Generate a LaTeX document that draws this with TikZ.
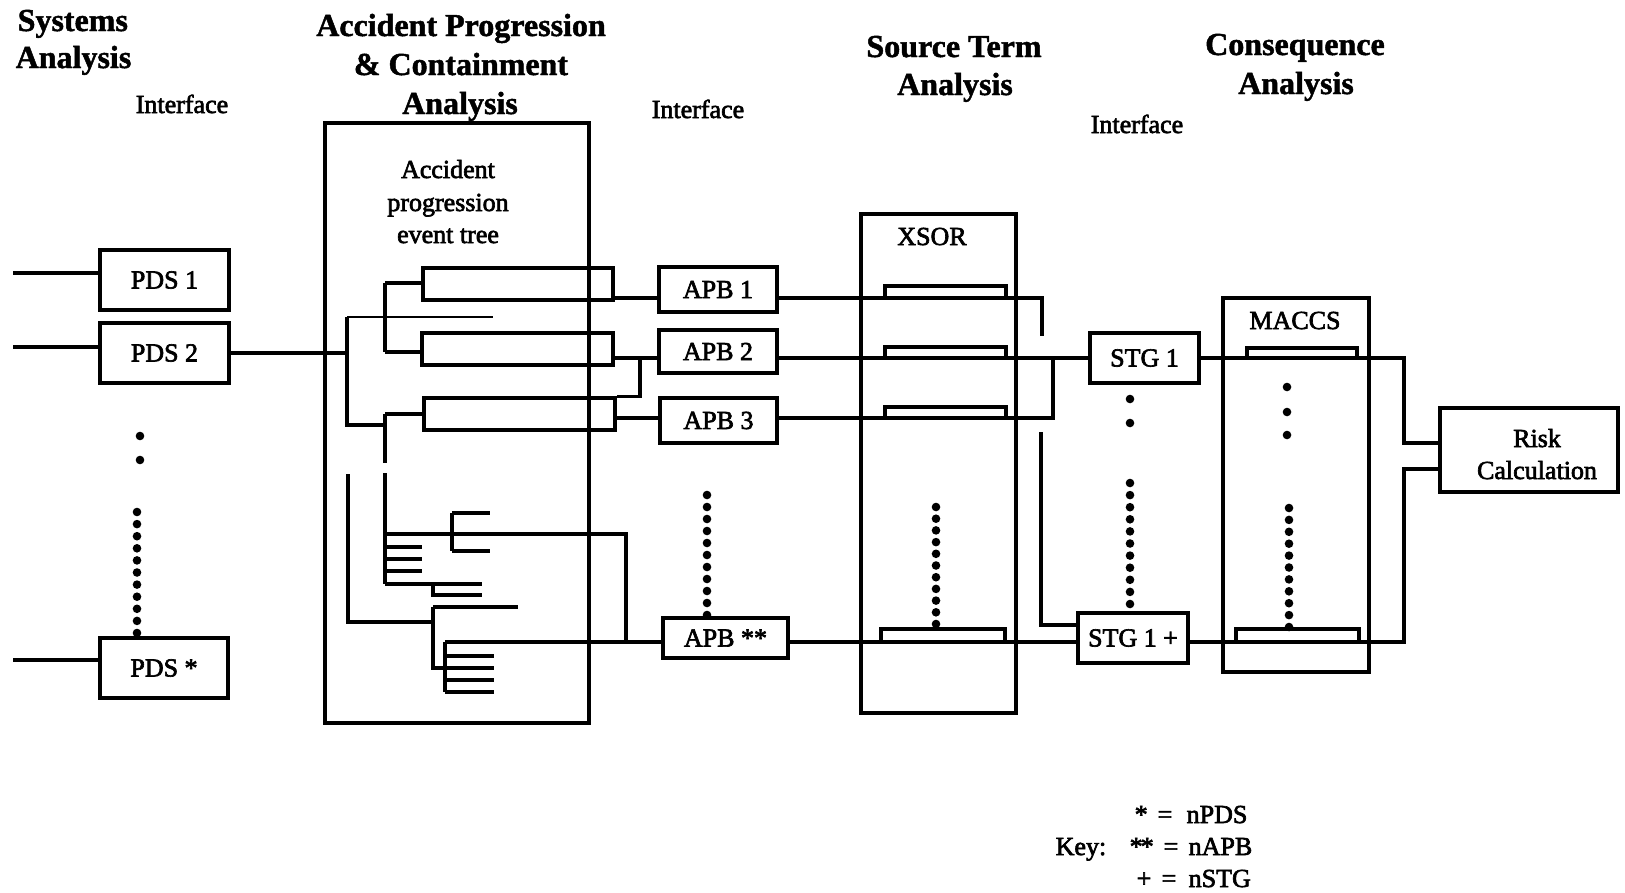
\documentclass[tikz,border=0pt]{standalone}
\usepackage{fontspec}
\setmainfont{Liberation Serif}
\newfontfamily\lblfam{Liberation Serif}[FakeBold=2.5]
\newfontfamily\hdfam{Liberation Serif Bold}[FakeBold=1.5]
\newcommand\lblfont{\lblfam\fontsize{26}{32}\selectfont}
\newcommand\hdfont{\hdfam\fontsize{32}{38}\selectfont}
\begin{document}
\begin{tikzpicture}[x=1pt,y=-1pt,line width=3.4pt,
  box/.style={draw,line width=3.4pt,inner sep=0pt,font=\lblfont},
  tbox/.style={draw,line width=3.4pt,inner sep=0pt},
  head/.style={font=\hdfont,anchor=base,inner sep=0pt},
  txt/.style={font=\lblfont,anchor=base,inner sep=0pt}]
\useasboundingbox (0,0) rectangle (1625,892);

% ---------- headings ----------
\node[head,anchor=base west] (sa1) at (16,31) {Systems};
\node[head,anchor=base west] (sa2) at (14,68) {Analysis};
\node[head] (ap1) at (461,36) {Accident Progression};
\node[head] (ap2) at (461,75) {\& Containment};
\node[head] (ap3) at (460,114) {Analysis};
\node[head] (st1) at (954,57) {Source Term};
\node[head] (st2) at (955,95) {Analysis};
\node[head] (ca1) at (1295,55) {Consequence};
\node[head] (ca2) at (1296,94) {Analysis};
\node[txt] (if1) at (182,113) {Interface};
\node[txt] (if2) at (698,118) {Interface};
\node[txt] (if3) at (1137,133) {Interface};

% ---------- PDS boxes ----------
\node[box,minimum width=129pt,minimum height=60pt] (pds1) at (164.5,280) {PDS 1};
\node[box,minimum width=129pt,minimum height=60pt] (pds2) at (164.5,353) {PDS 2};
\node[box,minimum width=128pt,minimum height=60pt] (pdsS) at (164,668) {PDS *};
\coordinate (in1) at (13,273);
\coordinate (in2) at (13,347);
\coordinate (in3) at (13,660);
\draw (in1) -- (in1 -| pds1.west);
\draw (in2) -- (in2 -| pds2.west);
\draw (in3) -- (in3 -| pdsS.west);
\fill (140,436) circle (4.3pt);
\fill (140,460) circle (4.3pt);
\foreach \i in {0,...,10} \fill (137,{512+12.1*\i}) circle (4.3pt);

% ---------- containment box and event tree ----------
\node[tbox,minimum width=264pt,minimum height=600pt] (cont) at (457,423) {};
\node[txt] (et1) at (448,178) {Accident};
\node[txt] (et2) at (448,211) {progression};
\node[txt] (et3) at (448,243) {event tree};
\node[tbox,minimum width=190pt,minimum height=32pt] (t1) at (518,284) {};
\node[tbox,minimum width=191pt,minimum height=32pt] (t2) at (517.5,349) {};
\node[tbox,minimum width=191pt,minimum height=32pt] (t3) at (519.5,414) {};
\coordinate (root) at (347,353);
\draw (pds2.east) -- (root);
\draw (347,317) -- (347,425) -- (385,425);
\draw[line width=2.4pt] (347,317) -- (493,317);
\draw (385,283) -- (385,352);
\draw (385,283) -- (t1.west |- 385,283);
\draw (385,352) -- (t2.west |- 385,352);
\draw (385,414) -- (t3.west);
\draw (385,414) -- (385,463);
\draw (385,473) -- (385,584);
\draw (385,534) -- (626,534) -- (626,642);
\draw (452,513) -- (452,551);
\draw (452,513) -- (490,513);
\draw (452,551) -- (490,551);
\draw (385,547) -- (422,547);
\draw (385,559) -- (422,559);
\draw (385,571) -- (422,571);
\draw (385,584) -- (482,584);
\draw (433,584) -- (433,595) -- (482,595);
\draw (348,474) -- (348,622) -- (433,622);
\draw (433,607) -- (433,668) -- (494,668);
\draw (433,607) -- (518,607);
\draw (445,642) -- (445,692);
\draw (445,656) -- (494,656);
\draw (445,680) -- (494,680);
\draw (445,692) -- (494,692);

% ---------- APB boxes ----------
\node[box,minimum width=118pt,minimum height=45pt] (apb1) at (718,289.5) {APB 1};
\node[box,minimum width=118pt,minimum height=43pt] (apb2) at (718,351.5) {APB 2};
\node[box,minimum width=117pt,minimum height=45pt] (apb3) at (718.5,420.5) {APB 3};
\node[box,minimum width=125pt,minimum height=40pt] (apbS) at (725.5,638) {APB **};
\foreach \i in {0,...,10} \fill (707,{495+12*\i}) circle (4.3pt);
\coordinate (y1) at (0,298);
\coordinate (y2) at (0,358);
\coordinate (y3) at (0,418);
\coordinate (y4) at (0,642);
\coordinate (y5) at (0,625);
\draw (t1.east |- y1) -- (apb1.west |- y1);
\draw (t2.east |- y2) -- (apb2.west |- y2);
\coordinate (k2) at (640,358);
\draw (k2) |- (t3.north east);
\draw (t3.east |- y3) -- (apb3.west |- y3);
\draw (445,642) -- (apbS.west |- y4);

% ---------- XSOR ----------
\node[tbox,minimum width=155pt,minimum height=499pt] (xsor) at (938.5,463.5) {};
\node[txt] (xsorl) at (932,245) {XSOR};
\draw (885,286) rectangle (1006,298);
\draw (885,347) rectangle (1006,358);
\draw (885,407) rectangle (1006,418);
\draw (881,629) rectangle (1005,642);
\foreach \i in {0,...,10} \fill (936,{507+11.7*\i}) circle (4.3pt);

% ---------- STG ----------
\node[box,minimum width=109pt,minimum height=50pt] (stg1) at (1144.5,358) {STG 1};
\node[box,minimum width=110pt,minimum height=50pt] (stg2) at (1133,638) {STG 1 +};
\fill (1130,399) circle (4.3pt);
\fill (1130,423) circle (4.3pt);
\foreach \i in {0,...,10} \fill (1130,{483+12.1*\i}) circle (4.3pt);
\coordinate (j1) at (1042,336);
\coordinate (j2) at (1053,358);
\coordinate (j3) at (1041,432);
\draw (apb1.east |- y1) -| (j1);
\draw (apb2.east |- y2) -- (stg1.west);
\draw (apb3.east |- y3) -| (j2);
\draw (j3) |- (stg2.west |- y5);
\draw (apbS.east |- y4) -- (stg2.west |- y4);

% ---------- MACCS ----------
\node[tbox,minimum width=146pt,minimum height=374pt] (maccs) at (1296,485) {};
\node[txt] (maccsl) at (1295,329) {MACCS};
\draw (1247,348) rectangle (1357,358);
\draw (1236,629) rectangle (1359,642);
\fill (1287,387) circle (4.3pt);
\fill (1287,412) circle (4.3pt);
\fill (1287,435) circle (4.3pt);
\foreach \i in {0,...,10} \fill (1289,{508+11.9*\i}) circle (4.3pt);

% ---------- Risk ----------
\node[tbox,minimum width=178pt,minimum height=84pt] (risk) at (1529,450) {};
\node[txt] (risk1) at (1537,447) {Risk};
\node[txt] (risk2) at (1537,479) {Calculation};
\coordinate (r1) at (1404,443);
\coordinate (r2) at (1404,469);
\draw (stg1.east) -| (r1) -- (risk.west |- r1);
\draw (stg2.east |- y4) -| (r2) -- (risk.west |- r2);

% ---------- key ----------
\node[txt,anchor=base west] (key) at (1054,855) {Key:};
\node[txt,anchor=base west] (k1a) at (1133,823) {*};
\node[txt] (k1b) at (1165,823) {=};
\node[txt,anchor=base west] (k1c) at (1185,823) {nPDS};
\node[txt,anchor=base west] (k2a) at (1128,855) {*\kern-2pt*};
\node[txt] (k2b) at (1171,855) {=};
\node[txt,anchor=base west] (k2c) at (1187,855) {nAPB};
\node[txt,anchor=base west] (k3a) at (1135,887) {+};
\node[txt] (k3b) at (1169,887) {=};
\node[txt,anchor=base west] (k3c) at (1187,887) {nSTG};
\end{tikzpicture}
\end{document}
